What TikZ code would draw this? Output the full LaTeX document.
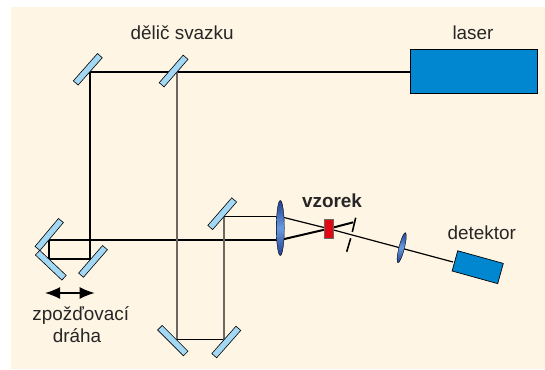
\documentclass[tikz,border=0pt]{standalone}
\usepackage{fontspec}
\setmainfont{Liberation Sans}
\usetikzlibrary{arrows.meta}
\usetikzlibrary{calc,shapes.geometric}
\definecolor{paper}{HTML}{FFF5E4}
\definecolor{mirrorblue}{HTML}{A3D8F5}
\definecolor{boxblue}{HTML}{0087D0}
\definecolor{lensdark}{HTML}{1F3F8F}
\definecolor{lenslight}{HTML}{6A9BE0}
\definecolor{samplered}{HTML}{E30613}
\definecolor{thingray}{HTML}{6E675F}
\tikzset{
x=1pt,y=-1pt,
mirror/.style={draw=black,line width=.6pt,fill=mirrorblue,minimum width=36.5pt,minimum height=6.4pt,inner sep=0pt},
lens/.style={ellipse,draw=black,line width=.4pt,top color=lensdark,bottom color=lensdark,middle color=lenslight,inner sep=0pt},
boxunit/.style={draw=black,line width=.7pt,fill=boxblue,inner sep=0pt},
lbl/.style={font=\fontsize{18.9pt}{22pt}\selectfont,text=black!85,inner sep=0pt,anchor=base},
thickbeam/.style={line width=2pt},
thinbeam/.style={line width=1.2pt},
graybeam/.style={line width=1.5pt,draw=thingray},
}
\begin{document}
\begin{tikzpicture}
\useasboundingbox (0,0) rectangle (545,369);
\fill[white] (0,0) rectangle (545,369);
\fill[paper] (11,7) rectangle (545,369);
% beam points
\coordinate (topleft) at (90,72);
\coordinate (split) at (177,72);
\coordinate (dl1) at (48.7,240);
\coordinate (dl2) at (48.7,259);
\coordinate (dr) at (90,259);
\coordinate (bs1) at (177,339.5);
\coordinate (bs2) at (224,339.5);
\coordinate (up) at (224,216.5);
\coordinate (lenstop) at (280,216.5);
\coordinate (lensbot) at (280,240);
\coordinate (focus) at (328.7,228.7);
\coordinate (stop) at (353.3,222.3);
% lasers and beams
\node[boxunit,minimum width=127pt,minimum height=44.4pt] (laser) at (473.5,71.5) {};
\draw[thickbeam] (laser.west |- topleft) -- (topleft) -- (dr) -- (dl2) -- (dl1) -- (lensbot);
\draw[graybeam] (split) -- (bs1);
\draw[thinbeam] (bs1) -- (bs2);
\draw[graybeam] (bs2) -- (up);
\draw[thinbeam] (up) -- (lenstop);
% mirrors
\foreach \n/\x/\y/\r in {
ma/87.8/69.3/48.5, mb/173.6/71/49, mc/49.2/234.5/50,
md/50.8/265.2/-43.5, me/93/261.4/49, mf/222.2/213.7/49,
mg/172.8/340.6/-45, mh/226.3/342/48.6
}
{
\node[mirror,rotate=\r] (\n) at (\x,\y) {};
}
% focus and sample
\draw[thickbeam] (lensbot) -- (focus) -- (stop);
\draw[thinbeam] (lenstop) -- (focus) -- (453,262);
\draw[line width=1.6pt] (355.7,217.7) -- (352.3,232) (350.7,238.3) -- (346.7,251.7);
\node[lens,minimum width=55pt,minimum height=8pt,rotate=90] (lensa) at (280.3,228) {};
\node[lens,minimum width=31pt,minimum height=5.5pt,rotate=76] (lensb) at (401.7,247.7) {};
\node[draw=thingray,line width=.6pt,fill=samplered,minimum width=8.7pt,minimum height=19pt,inner sep=0pt] (sample) at (328.7,228.5) {};
\node[boxunit,minimum width=47.3pt,minimum height=21pt,rotate=-15.5] (det) at (477.7,267.2) {};
% labels
\node[lbl] (lbllaser) at (473,39.3) {laser};
\node[lbl] (lblsplit) at (182.2,40) {dělič svazku};
\node[lbl,font=\fontsize{18.9pt}{22pt}\selectfont\bfseries] (lblsample) at (332,207.3) {vzorek};
\node[lbl] (lbldet) at (481.7,239.3) {detektor};
\node[lbl] (lbldelaya) at (80.7,320.7) {zpožďovací};
\node[lbl] (lbldelayb) at (77,342.7) {dráha};
\coordinate (arl) at (45,293);
\coordinate (arr) at (94.7,293);
\draw[{Latex[length=15pt,width=12pt]}-{Latex[length=15pt,width=12pt]},line width=1.5pt] (arl) -- (arr);
\end{tikzpicture}
\end{document}
